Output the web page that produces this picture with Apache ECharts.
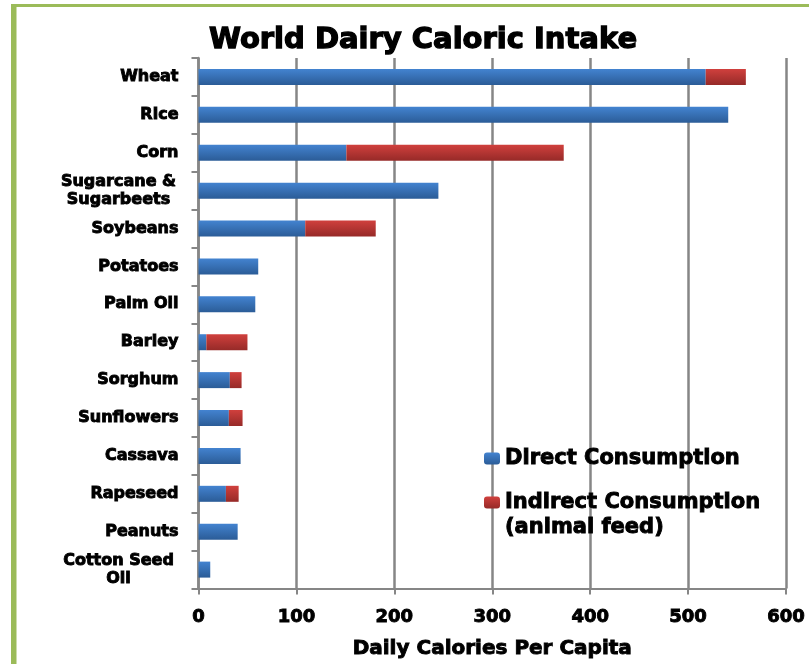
<!DOCTYPE html>
<html>
<head>
<meta charset="utf-8">
<title>World Dairy Caloric Intake</title>
<script src="https://cdn.jsdelivr.net/npm/echarts@6/dist/echarts.min.js"></script>
<style>
  html, body { margin: 0; padding: 0; background: #ffffff; }
  #chart { width: 809px; height: 664px; }
</style>
</head>
<body>
<div id="chart"></div>
<script>
// Crops, top to bottom
const crops = [
  'Wheat', 'Rice', 'Corn', 'Sugarcane &\nSugarbeets', 'Soybeans', 'Potatoes',
  'Palm Oil', 'Barley', 'Sorghum', 'Sunflowers', 'Cassava', 'Rapeseed',
  'Peanuts', 'Cotton Seed\nOil'
];
// Daily calories per capita eaten directly
const directCalories = [518, 541, 151, 245, 109, 61, 58, 8, 32, 31, 43, 28, 40, 12];
// Daily calories per capita going through animal feed
const indirectCalories = [41, 0, 222, 0, 72, 0, 0, 42, 12, 14, 0, 13, 0, 0];
// Value axis ticks
const calorieTicks = [0, 100, 200, 300, 400, 500, 600];

const FONT = 'DejaVu Sans';
const GRID_GRAY = '#868686';

// heavy black lettering: bold face plus a thin outline of the same colour
function heavy(size, extra) {
  return Object.assign({
    fontFamily: FONT, fontWeight: 'bold', fontSize: size, color: '#000',
    textBorderColor: '#000', textBorderWidth: 0.9
  }, extra || {});
}

function vGrad(top, bottom) {
  return new echarts.graphic.LinearGradient(0, 0, 0, 1, [
    { offset: 0, color: top },
    { offset: 1, color: bottom }
  ]);
}

const chart = echarts.init(document.getElementById('chart'), null, { renderer: 'canvas' });

chart.setOption({
  backgroundColor: '#ffffff',
  animation: false,
  title: {
    text: 'World Dairy Caloric Intake',
    left: 418,
    top: 21,
    textAlign: 'center',
    textStyle: heavy(29, { textBorderWidth: 1.3 })
  },
  graphic: [
    { type: 'rect', shape: { x: 11, y: 4, width: 5.5, height: 670 }, style: { fill: '#9BBB59' }, silent: true },
    { type: 'rect', shape: { x: 11, y: 4, width: 820, height: 3 }, style: { fill: '#9BBB59' }, silent: true }
  ],
  legend: [
    {
      data: ['Direct Consumption'],
      left: 479,
      top: 441,
      itemWidth: 16,
      itemHeight: 12,
      itemGap: 10,
      textStyle: heavy(21, { lineHeight: 25 })
    },
    {
      // a blank first line keeps the swatch level with "Indirect Consumption"
      data: ['Indirect Consumption\n(animal feed)'],
      formatter: function (name) { return ' \n' + name; },
      left: 479,
      top: 460,
      itemWidth: 16,
      itemHeight: 12,
      itemGap: 10,
      textStyle: heavy(21, { lineHeight: 25 })
    }
  ],
  grid: { left: 198.5, right: 23, top: 58, bottom: 68, containLabel: false },
  xAxis: {
    type: 'value',
    min: calorieTicks[0],
    max: calorieTicks[calorieTicks.length - 1],
    interval: calorieTicks[1] - calorieTicks[0],
    name: 'Daily Calories Per Capita',
    nameLocation: 'middle',
    nameGap: 50,
    nameTextStyle: heavy(20),
    axisLine: { show: true, lineStyle: { color: GRID_GRAY, width: 2 } },
    axisTick: { show: true, length: 6, lineStyle: { color: GRID_GRAY, width: 2 } },
    axisLabel: Object.assign({ margin: 20 }, heavy(18)),
    splitLine: { show: true, lineStyle: { color: GRID_GRAY, width: 2.5 } }
  },
  yAxis: {
    type: 'category',
    data: crops,
    inverse: true,
    axisLine: { show: true, lineStyle: { color: GRID_GRAY, width: 2.5 } },
    axisTick: { show: true, length: 7, lineStyle: { color: GRID_GRAY, width: 2 } },
    axisLabel: Object.assign({
      margin: 20,
      formatter: function (v) {
        if (v.indexOf('\n') >= 0) {
          return v.split('\n').map(function (line) { return '{c|' + line + '}'; }).join('\n');
        }
        return v;
      },
      rich: {
        c: heavy(16, { width: 120, align: 'center', lineHeight: 18 })
      }
    }, heavy(16))
  },
  series: [
    {
      name: 'Direct Consumption',
      type: 'bar',
      stack: 'calories',
      barWidth: 16,
      data: directCalories,
      itemStyle: { color: vGrad('#4383D0', '#2B5C97') }
    },
    {
      name: 'Indirect Consumption\n(animal feed)',
      type: 'bar',
      stack: 'calories',
      barWidth: 16,
      data: indirectCalories,
      itemStyle: { color: vGrad('#D0403D', '#962A28') }
    }
  ]
});
</script>
</body>
</html>
